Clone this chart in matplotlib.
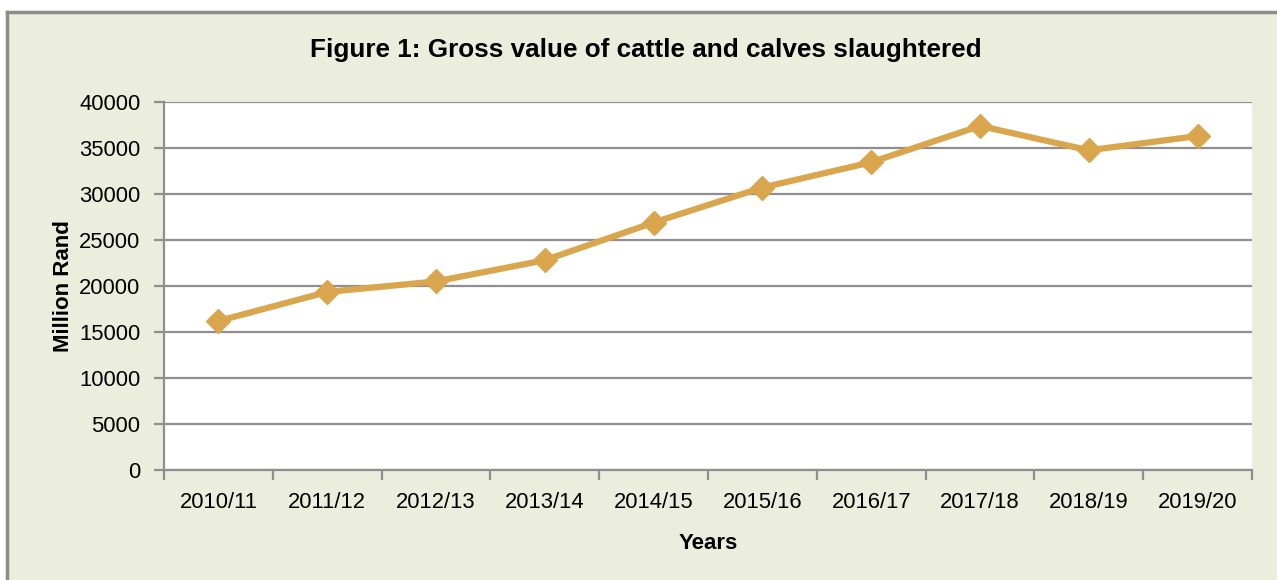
import numpy as np
import matplotlib.pyplot as plt
from matplotlib.patches import Rectangle

plt.rcParams['font.family'] = ['Liberation Sans', 'DejaVu Sans']

# Data
years = ['2010/11', '2011/12', '2012/13', '2013/14', '2014/15',
         '2015/16', '2016/17', '2017/18', '2018/19', '2019/20']
gross_value = [16200, 19350, 20500, 22800, 26900,
               30700, 33450, 37400, 34750, 36300]

W, H = 1277, 580
fig = plt.figure(figsize=(W / 100, H / 100), dpi=100)
fig.patch.set_facecolor('white')

# light green panel with gray top/left border
bg = '#ebeedd'
fig.patches.append(Rectangle((7 / W, 0), 1, 1 - 12 / H, transform=fig.transFigure,
                             facecolor=bg, edgecolor='none', zorder=-10))
fig.add_artist(plt.Line2D([7 / W, 7 / W], [0, 1 - 12 / H], color='#8c8c8c', lw=2.5, zorder=-5))
fig.add_artist(plt.Line2D([7 / W, 1], [1 - 12 / H, 1 - 12 / H], color='#8c8c8c', lw=2.5, zorder=-5))

ax = fig.add_axes([164 / W, 1 - 470 / H, (1252 - 164) / W, (470 - 102) / H])
ax.set_facecolor('white')

x = np.arange(len(years))
ax.plot(x, gross_value, color='#d9a64e', lw=4.5, marker='D', markersize=12,
        markeredgecolor='#d9a64e', zorder=3)

ax.set_xlim(-0.5, len(years) - 0.5)
ax.set_ylim(0, 40000)
ax.set_yticks(np.arange(0, 40001, 5000))
ax.yaxis.grid(True, color='#8f8f8f', lw=1.6)
ax.set_axisbelow(True)

ax.set_xticks(x)
ax.set_xticklabels(years)
ax.set_xticks(np.arange(-0.5, len(years)), minor=True)
ax.tick_params(axis='x', which='major', length=0, pad=16, labelsize=15.8)
ax.tick_params(axis='x', which='minor', length=7, color='#8f8f8f', width=1.6)
ax.tick_params(axis='y', length=7, color='#8f8f8f', width=1.6, labelsize=15.8, pad=10)

for side in ['top', 'right']:
    ax.spines[side].set_visible(False)
for side in ['left', 'bottom']:
    ax.spines[side].set_color('#8f8f8f')
    ax.spines[side].set_linewidth(1.6)

ax.set_xlabel('Years', fontsize=16, fontweight='bold', labelpad=14)
ax.set_ylabel('Million Rand', fontsize=16, fontweight='bold', labelpad=4)

fig.text(646 / W, 1 - 50 / H, 'Figure 1: Gross value of cattle and calves slaughtered',
         ha='center', va='center', fontsize=18.8, fontweight='bold')

fig.savefig('out.png', dpi=100)
